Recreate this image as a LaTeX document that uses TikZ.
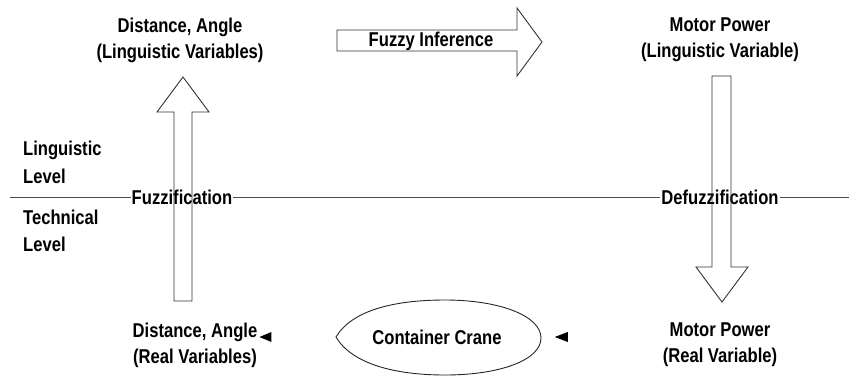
\documentclass[tikz,border=0pt]{standalone}
\usepackage{fontspec}
\setmainfont{Liberation Sans}[FakeStretch=0.83]
\begin{document}
\begin{tikzpicture}[x=1pt,y=-1pt,
  lbl/.style={font=\bfseries\fontsize{20}{26}\selectfont, text=black, align=center, inner sep=0pt},
  lvl/.style={lbl, align=left, anchor=west},
  onrule/.style={lbl, fill=white, inner xsep=1pt, inner ysep=2pt},
  blockarrow/.style={draw=black!80, line width=0.9pt, line join=miter},
  rule/.style={draw=black!70, line width=0.9pt},
  tip/.style={fill=black}]
\useasboundingbox (0,0) rectangle (849,376);

% level divider
\coordinate (ruleL) at (10,197);
\coordinate (ruleR) at (849,197);
\draw[rule] (ruleL) -- (ruleR);

% variable labels
\node[lbl] (lingDA) at (180,40) {Distance, Angle\\(Linguistic Variables)};
\node[lbl] (lingMP) at (720,40) {Motor Power\\(Linguistic Variable)};
\node[lbl] (realDA) at (195,345) {Distance, Angle\\(Real Variables)};
\node[lbl] (realMP) at (720,345) {Motor Power\\(Real Variable)};

% level names
\node[lvl] (linglvl) at (23,162) {Linguistic\\[2pt]Level};
\node[lvl] (techlvl) at (23,231) {Technical\\[1pt]Level};

% processing steps on the divider
\node[onrule] (fuzz) at (182,197) {Fuzzification};
\node[onrule] (defuzz) at (720,197) {Defuzzification};

% fuzzification: block arrow pointing up
\draw[blockarrow] (174,301) -- (174,112) -- (157,112) -- (183,77)
  -- (209,112) -- (192,112) -- (192,301) -- cycle;

% defuzzification: block arrow pointing down
\draw[blockarrow] (712,76) -- (712,267) -- (696,267) -- (722,302)
  -- (748,267) -- (731,267) -- (731,76) -- cycle;

% fuzzy inference: block arrow pointing right
\draw[blockarrow] (337,30) -- (517,30) -- (517,8) -- (542,42)
  -- (517,76) -- (517,51) -- (337,51) -- cycle;
\node[lbl] (infer) at (431,41) {Fuzzy Inference};

% plant
\node[lbl] (crane) at (437,337) {Container Crane};
\draw[black!85, line width=0.9pt] (336,337)
  .. controls (352,310) and (395,300) .. (445,300)
  .. controls (500,300) and (541,316) .. (541,338)
  .. controls (541,360) and (500,375) .. (445,375)
  .. controls (395,375) and (352,364) .. (336,337) -- cycle;

% small arrow tips beside the plant
\fill[tip] (realDA.east) ++(2,-8) coordinate (tipA) -- ++(12,-5) -- ++(0,10) -- cycle;
\fill[tip] (crane.east) ++(53,0) coordinate (tipB) -- ++(13,-5) -- ++(0,10) -- cycle;
\end{tikzpicture}
\end{document}
